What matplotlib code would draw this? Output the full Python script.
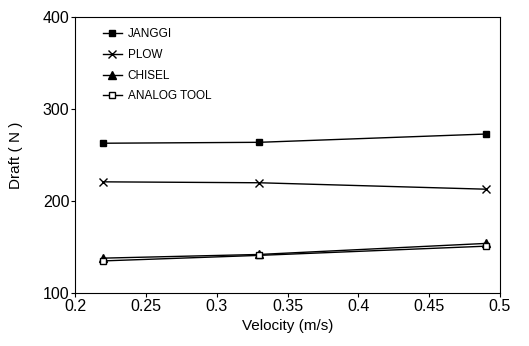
import matplotlib
matplotlib.use("Agg")
import matplotlib.pyplot as plt

plt.rcParams['font.family'] = ['Liberation Sans', 'DejaVu Sans']

# Data
velocity = [0.22, 0.33, 0.49]
janggi = [263, 264, 273]
plow = [221, 220, 213]
chisel = [138, 142, 154]
analog_tool = [135, 141, 151]

fig = plt.figure(figsize=(5.29, 3.46), dpi=100)
ax = fig.add_axes([0.142, 0.153, 0.803, 0.797])

ax.plot(velocity, janggi, color='black', lw=1, marker='s', ms=5, mfc='black', label='JANGGI')
ax.plot(velocity, plow, color='black', lw=1, marker='x', ms=6, mew=1, label='PLOW')
ax.plot(velocity, chisel, color='black', lw=1, marker='^', ms=6, mfc='black', label='CHISEL')
ax.plot(velocity, analog_tool, color='black', lw=1, marker='s', ms=5, mfc='white', label='ANALOG TOOL')

ax.set_xlim(0.2, 0.5)
ax.set_ylim(100, 400)
ax.set_xticks([0.2, 0.25, 0.3, 0.35, 0.4, 0.45, 0.5])
ax.set_xticklabels(['0.2', '0.25', '0.3', '0.35', '0.4', '0.45', '0.5'])
ax.set_yticks([100, 200, 300, 400])
ax.tick_params(direction='out', length=3, labelsize=11.5, pad=1)
ax.set_xlabel('Velocity (m/s)', fontsize=11, labelpad=4)
ax.set_ylabel('Draft ( N )', fontsize=11, labelpad=14)

ax.legend(loc='upper left', frameon=False, fontsize=8.5, handlelength=1.6,
          handletextpad=0.5, labelspacing=0.75, borderaxespad=0.5, bbox_to_anchor=(0.04, 1.0))

fig.savefig('out.png', dpi=100)
